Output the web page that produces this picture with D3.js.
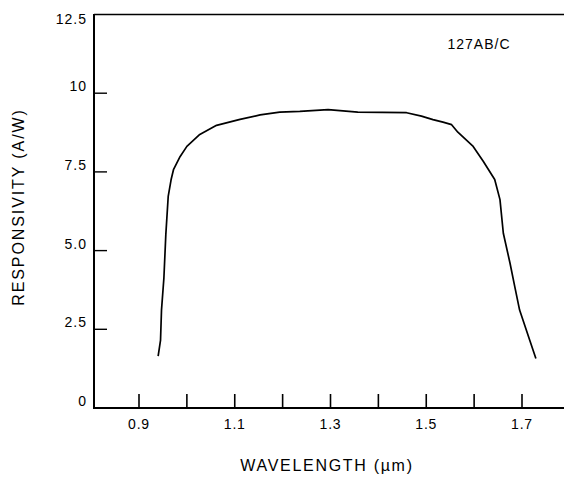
<!DOCTYPE html>
<html>
<head>
<meta charset="utf-8">
<script src="https://cdn.jsdelivr.net/npm/d3@7"></script>
<style>
  html, body { margin: 0; padding: 0; background: #fff; }
  svg { display: block; }
  text { font-family: "Liberation Sans", Arial, sans-serif; fill: #000; }
</style>
</head>
<body>
<svg id="chart" width="564" height="481"></svg>
<script>
// ---- data ----
const wavelength = [0.940, 0.945, 0.947, 0.952, 0.956, 0.961, 0.967, 0.972, 0.986, 1.000,
  1.027, 1.062, 1.111, 1.153, 1.194, 1.236, 1.295, 1.357, 1.459, 1.490,
  1.514, 1.535, 1.553, 1.566, 1.598, 1.619, 1.643, 1.654, 1.661, 1.675,
  1.685, 1.695, 1.716, 1.729];
const responsivity = [1.65, 2.16, 3.11, 4.13, 5.50, 6.72, 7.25, 7.57, 7.99, 8.31,
  8.69, 8.98, 9.17, 9.31, 9.40, 9.42, 9.48, 9.40, 9.38, 9.27,
  9.16, 9.08, 9.00, 8.76, 8.31, 7.84, 7.26, 6.62, 5.55, 4.60,
  3.85, 3.11, 2.16, 1.57];
const xTickValues = [0.9, 1.0, 1.1, 1.2, 1.3, 1.4, 1.5, 1.6, 1.7];
const xTickLabels = ["0.9", "", "1.1", "", "1.3", "", "1.5", "", "1.7"];
const yTickValues = [0, 2.5, 5, 7.5, 10, 12.5];
const yTickLabels = ["0", "2.5", "5.0", "7.5", "10", "12.5"];
const xTitle = "WAVELENGTH (\u00b5m)";
const yTitle = "RESPONSIVITY (A/W)";
const annotation = "127AB/C";

(function () {
// ---- layout ----
const W = 564, H = 481;
const svg = d3.select("#chart");
const x = d3.scaleLinear().domain([0.9, 1.7]).range([139, 522]);
const y = d3.scaleLinear().domain([0, 12.5]).range([408, 14.5]);
const pLeft = 94, pRight = W, pTop = 14.5, pBottom = 408;

// frame: top line, left axis, bottom axis
svg.append("line").attr("x1", pLeft).attr("x2", pRight).attr("y1", pTop).attr("y2", pTop)
  .attr("stroke", "#000").attr("stroke-width", 1.3);
svg.append("line").attr("x1", pLeft).attr("x2", pLeft).attr("y1", pTop - 0.6).attr("y2", pBottom + 1)
  .attr("stroke", "#000").attr("stroke-width", 2);
svg.append("line").attr("x1", pLeft - 1).attr("x2", pRight).attr("y1", pBottom).attr("y2", pBottom)
  .attr("stroke", "#000").attr("stroke-width", 2);

// x ticks (pointing up, inside)
const xt = svg.append("g");
xTickValues.forEach((v, i) => {
  xt.append("line").attr("x1", x(v)).attr("x2", x(v)).attr("y1", pBottom).attr("y2", pBottom - 14)
    .attr("stroke", "#000").attr("stroke-width", 1.6);
  if (xTickLabels[i]) {
    xt.append("text").attr("x", x(v)).attr("y", pBottom + 21)
      .attr("text-anchor", "middle").attr("font-size", 14).attr("letter-spacing", 0.8)
      .text(xTickLabels[i]);
  }
});

// y ticks (pointing right, inside)
const yt = svg.append("g");
yTickValues.forEach((v, i) => {
  if (v > 0 && v < 12.5) {
    yt.append("line").attr("x1", pLeft).attr("x2", pLeft + 13).attr("y1", y(v)).attr("y2", y(v))
      .attr("stroke", "#000").attr("stroke-width", 1.4);
  }
  const by = Math.max(y(v) - 2, 24);
  yt.append("text").attr("x", 87).attr("y", by)
    .attr("text-anchor", "end").attr("font-size", 14).attr("letter-spacing", 1)
    .text(yTickLabels[i]);
});

// curve
const pts = wavelength.map((w, i) => [w, responsivity[i]]);
const line = d3.line().x(d => x(d[0])).y(d => y(d[1])).curve(d3.curveLinear);
svg.append("path").attr("d", line(pts)).attr("fill", "none")
  .attr("stroke", "#000").attr("stroke-width", 1.7).attr("stroke-linejoin", "round");

// titles
svg.append("text").attr("x", 327).attr("y", 471).attr("text-anchor", "middle")
  .attr("font-size", 16).attr("letter-spacing", 1.7).text(xTitle);
svg.append("text").attr("transform", "translate(24,207) rotate(-90)")
  .attr("text-anchor", "middle").attr("font-size", 16).attr("letter-spacing", 1.9).text(yTitle);

// annotation
svg.append("text").attr("x", 479).attr("y", 49).attr("text-anchor", "middle")
  .attr("font-size", 14).attr("letter-spacing", 1).text(annotation);
})();
</script>
</body>
</html>
